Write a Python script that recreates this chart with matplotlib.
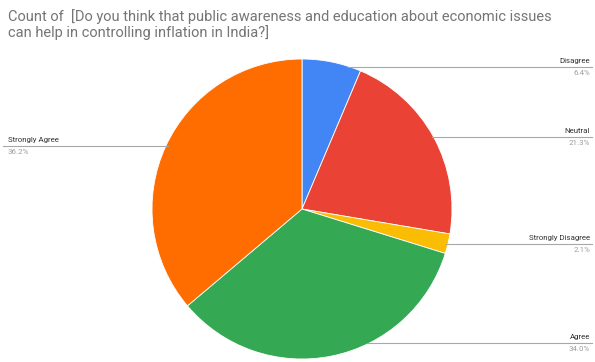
import numpy as np
import matplotlib.pyplot as plt

TITLE = ("Count of  [Do you think that public awareness and education about economic issues\n"
         "can help in controlling inflation in India?]")

CATEGORIES = ["Disagree", "Neutral", "Strongly Disagree", "Agree", "Strongly Agree"]
COUNTS = [3, 10, 1, 16, 17]
COLORS = ["#4285F4", "#EA4335", "#FBBC04", "#34A853", "#FF6D01"]

W, H = 595, 362
CX, CY, R = 302, H - 209, 150
LABEL_TOP, LABEL_BOTTOM = H - 67, H - 343
MIN_GAP = 60

fig = plt.figure(figsize=(W / 100, H / 100), dpi=100)
ax = fig.add_axes([0, 0, 1, 1])

ax.pie(COUNTS, colors=COLORS, startangle=90, counterclock=False,
       center=(CX, CY), radius=R,
       wedgeprops=dict(edgecolor="white", linewidth=0.6))
ax.set_xlim(0, W)
ax.set_ylim(0, H)
ax.set_aspect("equal")
ax.axis("off")

# leader line heights come from the middle of each slice
total = sum(COUNTS)
ends = np.cumsum(COUNTS) / total * 360
starts = ends - np.array(COUNTS) / total * 360
mids = np.radians(90 - (starts + ends) / 2)
ys = CY + R * np.sin(mids)
xs_side = np.cos(mids) >= 0

right_idx = [i for i in range(len(COUNTS)) if xs_side[i]]
right_idx.sort(key=lambda i: -ys[i])
label_y = ys.copy()
prev = None
for i in right_idx:
    y = min(max(ys[i], LABEL_BOTTOM), LABEL_TOP)
    if prev is not None and prev - y < MIN_GAP:
        y = prev - MIN_GAP
    label_y[i] = max(y, LABEL_BOTTOM)
    prev = label_y[i]
# keep the bottom label at the lower edge and push others up if crowded
nxt = None
for i in reversed(right_idx):
    if nxt is not None and label_y[i] - nxt < MIN_GAP:
        label_y[i] = nxt + MIN_GAP
    nxt = label_y[i]

for i, (name, n) in enumerate(zip(CATEGORIES, COUNTS)):
    y = label_y[i]
    pct = f"{n / total * 100:.1f}%"
    dy = np.clip(y - CY, -R, R)
    edge = np.sqrt(R ** 2 - dy ** 2)
    if xs_side[i]:
        ax.plot([CX + edge - 2, 592], [y, y], color="#a8a8a8", lw=0.8)
        ax.text(590, y + 3, name, ha="right", va="bottom", fontsize=5.7,
                color="#333333", family="Roboto")
        ax.text(590, y - 3, pct, ha="right", va="top", fontsize=5.7,
                color="#9e9e9e", family="Roboto")
    else:
        ax.plot([3, CX - edge + 2], [y, y], color="#a8a8a8", lw=0.8)
        ax.text(8, y + 3, name, ha="left", va="bottom", fontsize=5.7,
                color="#333333", family="Roboto")
        ax.text(8, y - 3, pct, ha="left", va="top", fontsize=5.7,
                color="#9e9e9e", family="Roboto")

ax.text(8, H - 9, TITLE, ha="left", va="top", fontsize=10.5,
        color="#757575", family="Roboto", linespacing=1.05)

fig.savefig("out.png", dpi=100)
